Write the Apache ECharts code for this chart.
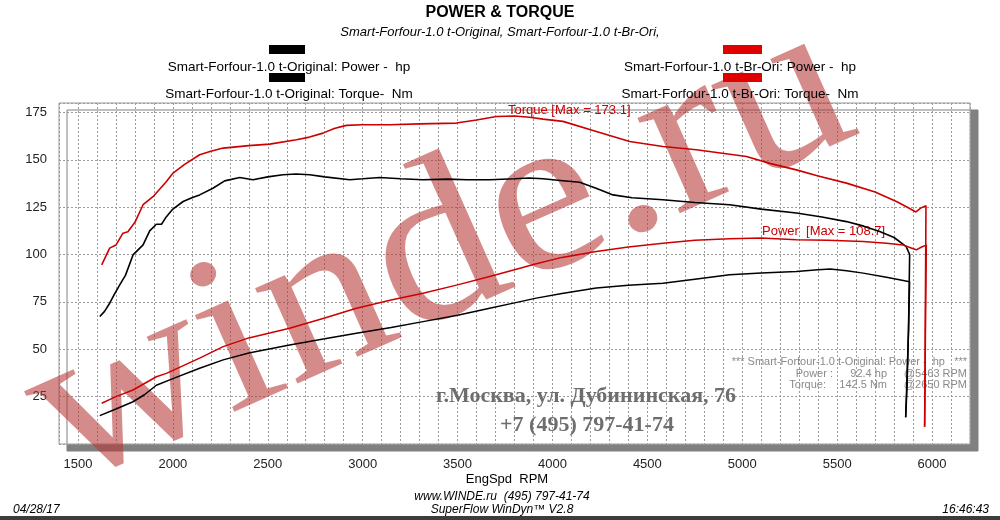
<!DOCTYPE html>
<html><head><meta charset="utf-8">
<script src="https://cdn.jsdelivr.net/npm/echarts@6/dist/echarts.min.js"></script>
<style>html,body{margin:0;padding:0;background:#fff}#c{width:1000px;height:520px}</style>
</head><body><div id="c"></div>
<script>
// ---- data ----
const xTicks = [1500, 2000, 2500, 3000, 3500, 4000, 4500, 5000, 5500, 6000];
const yTicks = [25, 50, 75, 100, 125, 150, 175];

const origTorqueRpm = [1615,1640,1667,1690,1720,1750,1790,1843,1878,1913,1940,1966,2000,2054,2100,2141,2211,2273,2352,2422,2500,2580,2650,2721,2800,2932,3000,3090,3200,3318,3450,3550,3669,3800,3879,3950,4055,4143,4230,4319,4420,4582,4750,4933,5100,5285,5420,5549,5640,5724,5800,5864,5882,5876,5868,5861];
const origTorque    = [67.3,70,74.3,78.7,84,89,99.8,105.1,112.5,116,116,120,124,128,130,131.5,135,138.9,140.7,139.5,141,142.1,142.5,142.1,141,139.5,140,140.7,140,139.5,139.8,139.5,139.5,140,140.4,140,139,138.2,135,131.5,130,128.9,127.5,126.3,124,121.9,119.8,117.4,115,112.2,109,104.2,100,60,30,14.1];

const origPowerRpm = [1615,1700,1790,1850,1913,2000,2141,2265,2400,2615,2800,2967,3150,3318,3500,3669,3800,3915,4050,4231,4400,4582,4750,4933,5100,5285,5400,5463,5550,5637,5760,5882,5876,5868,5861];
const origPower    = [15,18.5,22.3,26,31,34.5,40,44.4,48,52.3,55.5,58.5,61.5,64.6,68,71.7,74.5,77,79.5,82.3,83.8,84.9,87,89.3,90.3,91,92,92.4,91.5,90.2,88,85.7,60,35,14.1];

const briTorqueRpm = [1625,1667,1700,1737,1763,1800,1843,1900,1966,2001,2060,2141,2200,2265,2400,2510,2651,2720,2791,2850,2914,3000,3142,3300,3494,3600,3705,3800,3879,3950,4055,4231,4407,4582,4758,5022,5150,5285,5400,5549,5700,5812,5870,5915,5940,5968,5966,5963,5961];
const briTorque    = [94.6,103.4,105,111.3,112,117,126.3,131,138.6,143,147.5,152.7,154.5,156.2,157.5,158.3,160.6,162,164.1,166.5,168.2,168.5,168.5,169,169.4,171,172.9,173.1,172.5,171.5,170.3,165,159.7,157,155.3,151.8,148,144.7,141.5,137.7,133,128,125,122.5,124.5,125.8,90,40,9.1];

const briPowerRpm = [1625,1700,1790,1913,1966,2141,2265,2400,2615,2800,2967,3150,3318,3500,3669,3800,3915,4050,4231,4400,4582,4750,4933,5100,5285,5450,5637,5760,5847,5890,5917,5945,5970,5966,5963,5961];
const briPower    = [21.5,25,28.5,35.5,37.3,45.3,51.4,56,61.1,66.5,71.7,76,79.6,84,88.4,92,95.1,98.5,101.6,104,106,107.5,108.3,108.7,107.8,107.5,106.9,106,105.1,103.5,102.5,104,105,70,30,9.1];

const seriesNames = [
  'Smart-Forfour-1.0 t-Original: Power -  hp',
  'Smart-Forfour-1.0 t-Original: Torque-  Nm',
  'Smart-Forfour-1.0 t-Br-Ori: Power -  hp',
  'Smart-Forfour-1.0 t-Br-Ori: Torque-  Nm'
];
const titleText = 'POWER & TORQUE';
const subTitleText = 'Smart-Forfour-1.0 t-Original, Smart-Forfour-1.0 t-Br-Ori,';
const torqueMaxText = 'Torque [Max = 173.1]';
const powerMaxText = 'Power  [Max = 108.7]';
const infoHeader = '*** Smart-Forfour-1.0 t-Original: Power -  hp   ***';
const infoRows = [['Power :', '92.4 hp', '@5463 RPM'], ['Torque:', '142.5 Nm', '@2650 RPM']];
const addressLines = ['г.Москва, ул. Дубининская, 76', '+7 (495) 797-41-74'];
const xName = 'EngSpd  RPM';
const footerLines = ['www.WINDE.ru  (495) 797-41-74', 'SuperFlow WinDyn™ V2.8'];
const dateText = '04/28/17';
const timeText = '16:46:43';
const watermarkText = 'winde.ru';

const zip = (a, b) => a.map((v, i) => [v, b[i]]);
const BLACK = '#000000', RED = '#cc0000';
const SANS = 'Liberation Sans, Arial, sans-serif';
const SERIF = 'Liberation Serif, Times New Roman, serif';

const chart = echarts.init(document.getElementById('c'), null, {renderer: 'canvas'});

function txt(x, y, text, o) {
  return {type: 'text', x: x, y: y, silent: true, z: 3,
    style: Object.assign({text: text, fill: '#000', font: '13.5px ' + SANS, align: 'center', verticalAlign: 'middle'}, o || {})};
}

const wmRot = 24 * Math.PI / 180;
const graphics = [
  // legend swatches
  {type: 'rect', z: 3, shape: {x: 269, y: 45, width: 36, height: 9}, style: {fill: BLACK}},
  {type: 'rect', z: 3, shape: {x: 269, y: 73, width: 36, height: 9}, style: {fill: BLACK}},
  {type: 'rect', z: 3, shape: {x: 723, y: 45, width: 39, height: 9}, style: {fill: '#e00000'}},
  {type: 'rect', z: 3, shape: {x: 723, y: 73, width: 39, height: 9}, style: {fill: '#e00000'}},
  txt(289, 67, seriesNames[0]),
  txt(289, 94, seriesNames[1]),
  txt(740, 67, seriesNames[2]),
  txt(740, 94, seriesNames[3]),
  // max annotations
  txt(508, 110, torqueMaxText, {align: 'left', fill: RED, font: '13px ' + SANS}),
  txt(762, 231, powerMaxText, {align: 'left', fill: RED, font: '13px ' + SANS}),
  // info block
  txt(967, 362, infoHeader, {align: 'right', fill: '#8a8a8a', font: '11px ' + SANS}),
  txt(833, 374, infoRows[0][0], {align: 'right', fill: '#8a8a8a', font: '11px ' + SANS}),
  txt(887, 374, infoRows[0][1], {align: 'right', fill: '#8a8a8a', font: '11px ' + SANS}),
  txt(967, 374, infoRows[0][2], {align: 'right', fill: '#8a8a8a', font: '11px ' + SANS}),
  txt(826, 385, infoRows[1][0], {align: 'right', fill: '#8a8a8a', font: '11px ' + SANS}),
  txt(887, 385, infoRows[1][1], {align: 'right', fill: '#8a8a8a', font: '11px ' + SANS}),
  txt(967, 385, infoRows[1][2], {align: 'right', fill: '#8a8a8a', font: '11px ' + SANS}),
  // address
  txt(586, 396, addressLines[0], {fill: '#6e6e6e', font: 'bold 22px ' + SERIF}),
  txt(587, 425, addressLines[1], {fill: '#6e6e6e', font: 'bold 22px ' + SERIF}),
  // axis name and footer
  txt(507, 479, xName, {font: '13px ' + SANS}),
  txt(502, 497, footerLines[0], {font: 'italic 12px ' + SANS}),
  txt(502, 510, footerLines[1], {font: 'italic 12px ' + SANS}),
  txt(13, 510, dateText, {align: 'left', font: 'italic 12px ' + SANS}),
  txt(989, 510, timeText, {align: 'right', font: 'italic 12px ' + SANS}),
  {type: 'rect', z: 3, shape: {x: 0, y: 516, width: 1000, height: 4}, style: {fill: '#3c3c3c'}},
  // watermark
  {type: 'text', z: 1, silent: true, x: 42, y: 432, rotation: wmRot, scaleX: 1.09, scaleY: 1,
    style: {text: watermarkText, font: '227px ' + SERIF, fill: 'rgba(185,55,55,0.58)', align: 'left', verticalAlign: 'middle'}}
];

const dotted = {color: '#9c9c9c', width: 1, type: [2, 2]};

chart.setOption({
  animation: false,
  backgroundColor: '#ffffff',
  title: {
    text: titleText, subtext: subTitleText, left: 'center', top: 0, itemGap: 5,
    textStyle: {fontFamily: SANS, fontSize: 16, fontWeight: 'bold', color: '#000'},
    subtextStyle: {fontFamily: SANS, fontSize: 13, fontStyle: 'italic', color: '#000'}
  },
  grid: {
    left: 59, right: 30, top: 103, bottom: 76, containLabel: false,
    show: true, backgroundColor: '#ffffff', borderColor: '#9a9a9a', borderWidth: 1,
    shadowColor: '#808080', shadowOffsetX: 8, shadowOffsetY: 7, shadowBlur: 0
  },
  xAxis: {
    type: 'value', min: 1400, max: 6200, interval: 100,
    axisLine: {show: false}, axisTick: {show: false},
    axisLabel: {margin: 14, fontSize: 13, fontFamily: SANS, color: '#222',
      formatter: v => xTicks.indexOf(v) >= 0 ? String(v) : ''},
    splitLine: {show: true, lineStyle: dotted}
  },
  yAxis: {
    type: 'value', min: 0, max: 180, interval: 25,
    axisLine: {show: false}, axisTick: {show: false},
    axisLabel: {margin: 12, fontSize: 13, fontFamily: SANS, color: '#222',
      formatter: v => yTicks.indexOf(v) >= 0 ? String(v) : ''},
    splitLine: {show: true, lineStyle: dotted}
  },
  series: [
    {name: seriesNames[0], type: 'line', data: zip(origPowerRpm, origPower), showSymbol: false, lineStyle: {color: BLACK, width: 1.5}, itemStyle: {color: BLACK}},
    {name: seriesNames[1], type: 'line', data: zip(origTorqueRpm, origTorque), showSymbol: false, lineStyle: {color: BLACK, width: 1.6}, itemStyle: {color: BLACK}},
    {name: seriesNames[2], type: 'line', data: zip(briPowerRpm, briPower), showSymbol: false, lineStyle: {color: RED, width: 1.5}, itemStyle: {color: RED}},
    {name: seriesNames[3], type: 'line', data: zip(briTorqueRpm, briTorque), showSymbol: false, lineStyle: {color: RED, width: 1.6}, itemStyle: {color: RED}}
  ],
  graphic: graphics
});
</script>
</body></html>
